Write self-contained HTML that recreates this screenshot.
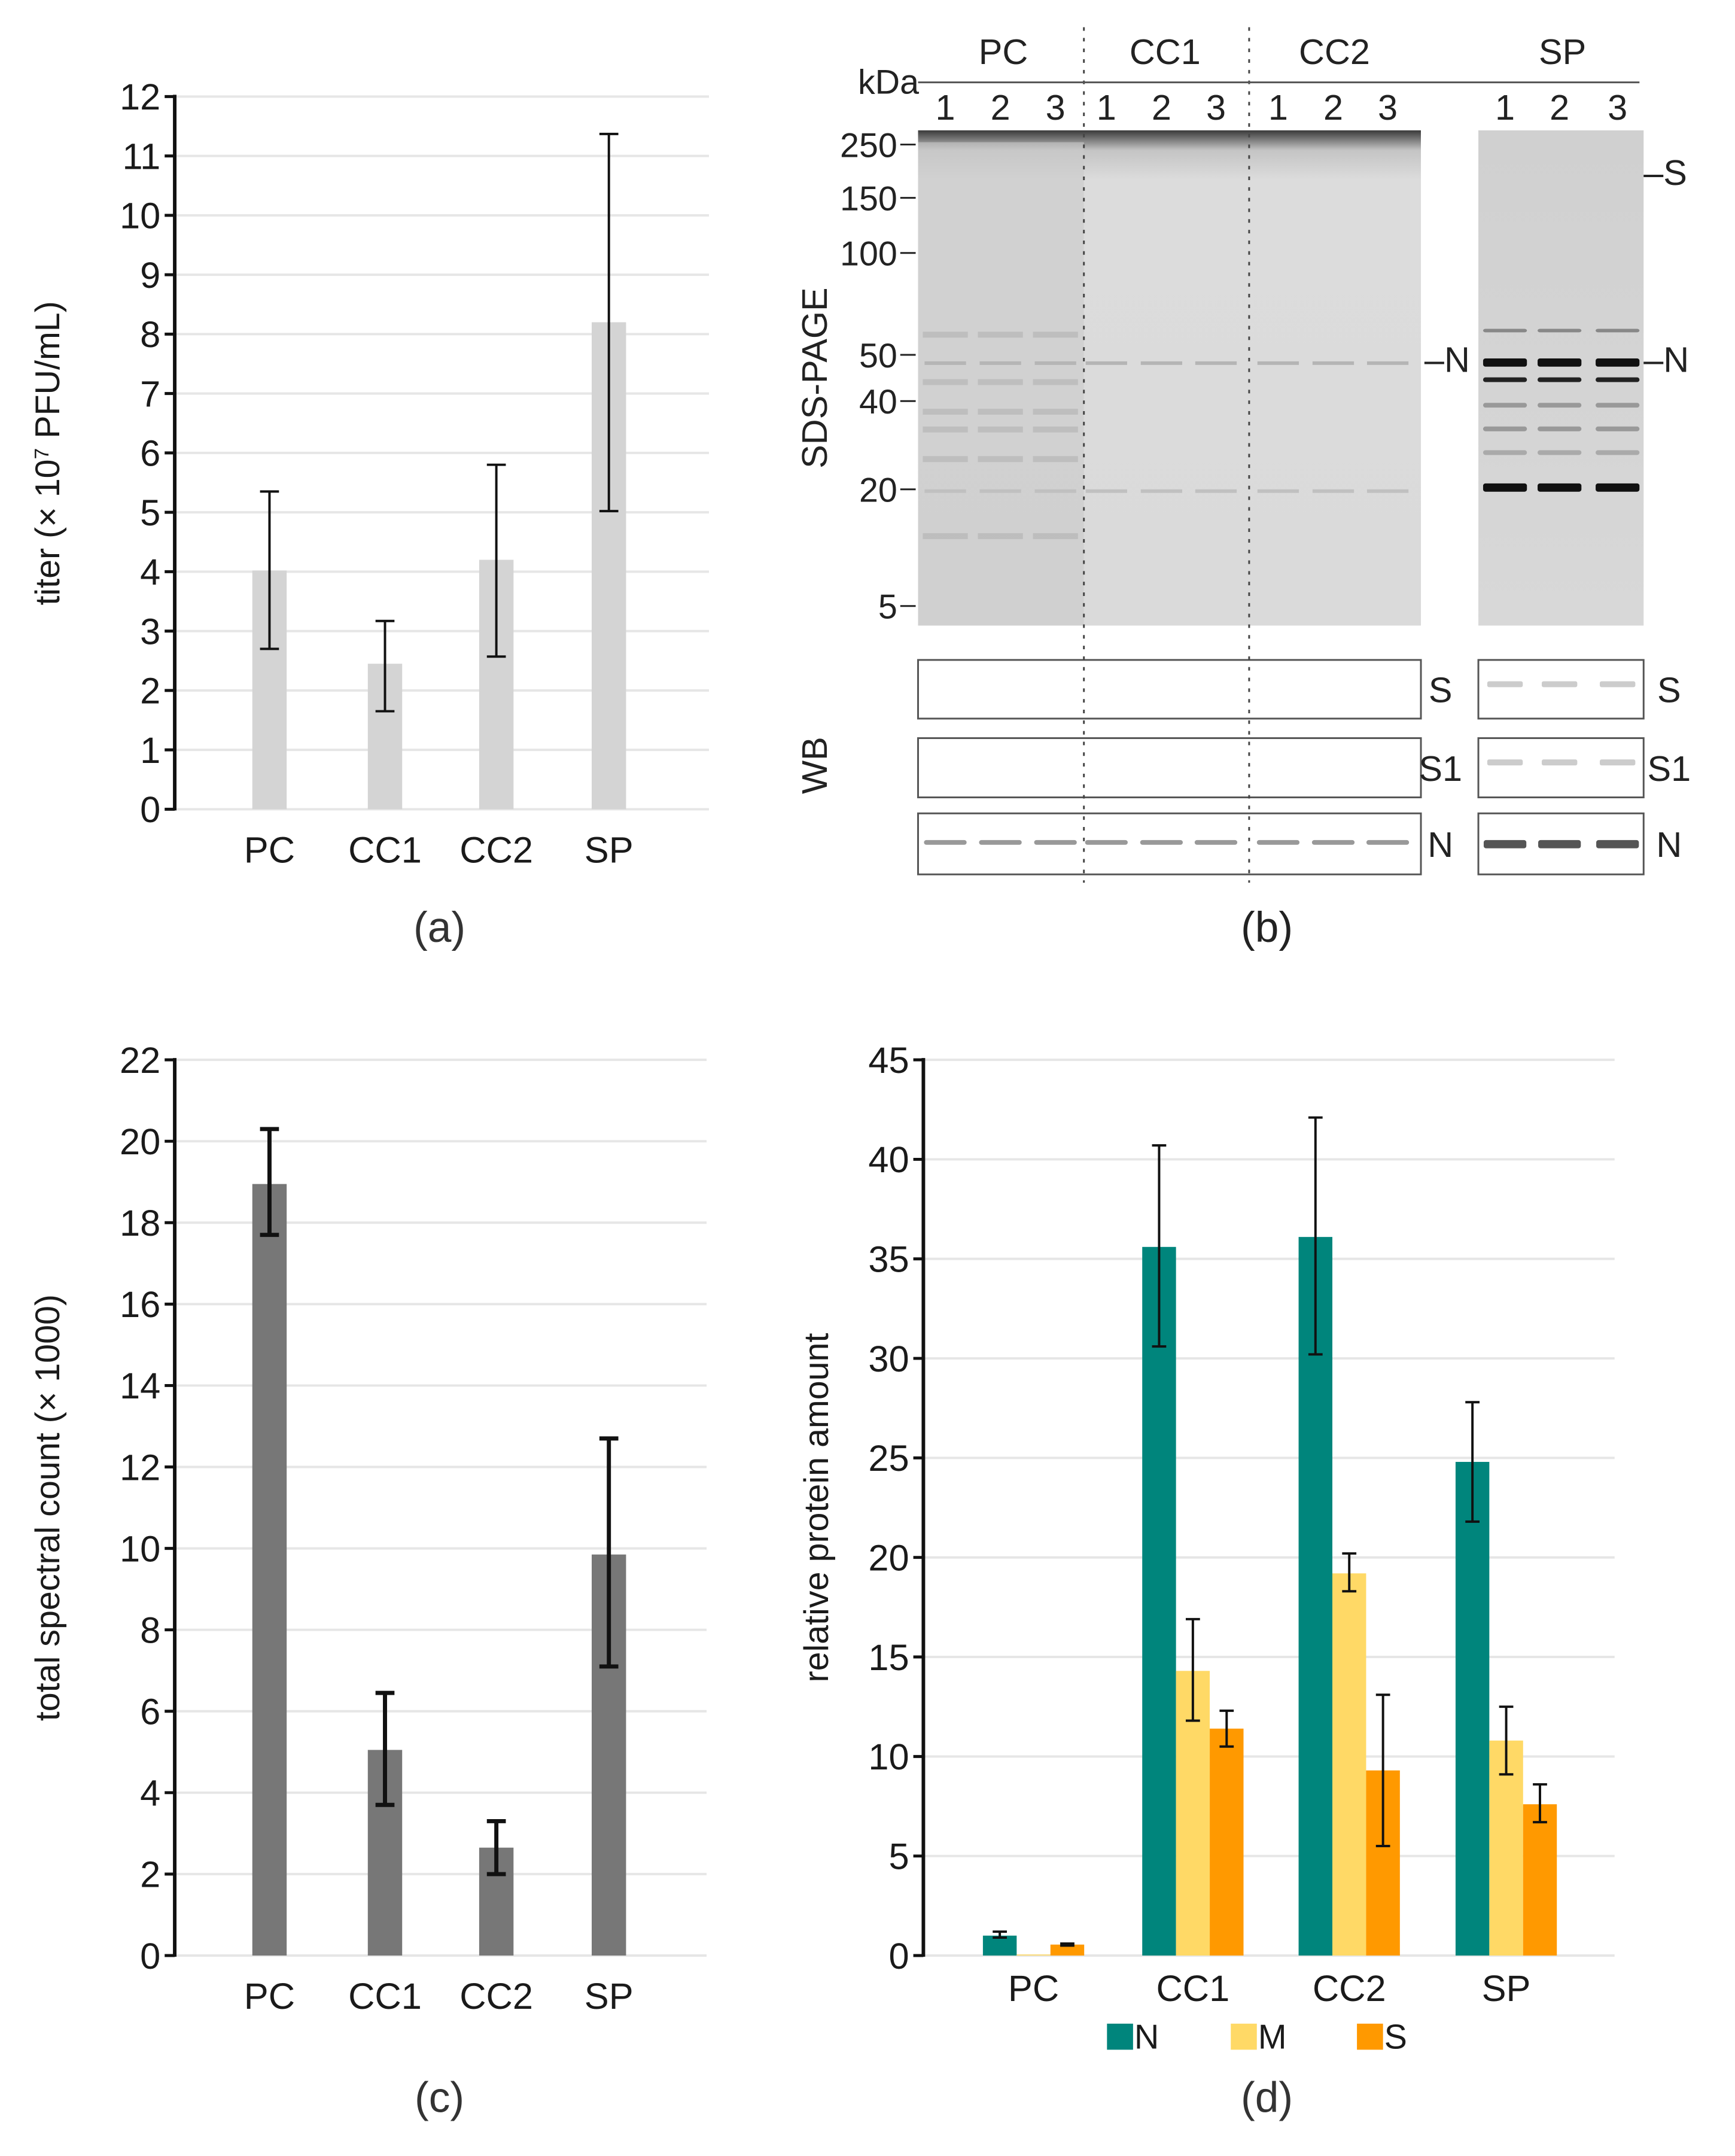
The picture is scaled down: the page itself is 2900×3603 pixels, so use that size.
<!DOCTYPE html>
<html><head><meta charset="utf-8">
<style>
html,body{margin:0;padding:0;background:#fff;}
svg{display:block;font-family:"Liberation Sans",Arial,sans-serif;}
</style></head>
<body>
<svg id="fig" width="2900" height="3603" viewBox="0 0 2900 3603" xmlns="http://www.w3.org/2000/svg">
<defs>
<linearGradient id="gelTop" x1="0" y1="0" x2="0" y2="1">
<stop offset="0" stop-color="#3a3a3a"/><stop offset="0.04" stop-color="#c4c4c4"/><stop offset="0.1" stop-color="#dcdcdc"/><stop offset="1" stop-color="#dadada"/>
</linearGradient>
<linearGradient id="gelSP" x1="0" y1="0" x2="0" y2="1">
<stop offset="0" stop-color="#d0d0d0"/><stop offset="1" stop-color="#d8d8d8"/>
</linearGradient>
</defs>
<g transform="scale(0.99)">
<g id="panelA"></g>
<g id="panelB"></g>
<g id="panelC"></g>
<g id="panelD"></g>
</g>
</svg>
<script>
// ---- Panel (a) data ----
const catsA = ["PC","CC1","CC2","SP"];
const valsA = [4.02, 2.45, 4.2, 8.2];
const lowA = [2.7, 1.65, 2.57, 5.02];
const highA = [5.35, 3.17, 5.8, 11.37];
const ticksA = [0,1,2,3,4,5,6,7,8,9,10,11,12];
// ---- Panel (c) data ----
const catsC = ["PC","CC1","CC2","SP"];
const valsC = [18.95, 5.05, 2.65, 9.85];
const lowC = [17.7, 3.7, 2.0, 7.1];
const highC = [20.3, 6.45, 3.3, 12.7];
const ticksC = [0,2,4,6,8,10,12,14,16,18,20,22];
// ---- Panel (d) data ----
const catsD = ["PC","CC1","CC2","SP"];
const seriesNames = ["N","M","S"];
const valsN = [1.0, 35.6, 36.1, 24.8];
const lowN = [0.9, 30.6, 30.2, 21.8];
const highN = [1.2, 40.7, 42.1, 27.8];
const valsM = [0.05, 14.3, 19.2, 10.8];
const lowM = [0.05, 11.8, 18.3, 9.1];
const highM = [0.05, 16.9, 20.2, 12.5];
const valsS = [0.55, 11.4, 9.3, 7.6];
const lowS = [0.5, 10.5, 5.5, 6.7];
const highS = [0.6, 12.3, 13.1, 8.6];
const ticksD = [0,5,10,15,20,25,30,35,40,45];

const NS="http://www.w3.org/2000/svg";
function mk(parent, tag, attrs, text){
  const e=document.createElementNS(NS,tag);
  for(const k in attrs) e.setAttribute(k,attrs[k]);
  if(text!==undefined) e.textContent=text;
  parent.appendChild(e); return e;
}
function axisChart(g, o){
  const y=v=>o.y0-(v-o.min)/(o.max-o.min)*(o.y0-o.yTop);
  o.ticks.forEach(t=>{
    const gl=mk(g,'line',{x1:o.x0,x2:o.xR,y1:y(t),y2:y(t),stroke:'#e6e6e6','stroke-width':4});
    
    
    const tk=mk(g,'line',{x1:o.x0-17,x2:o.x0,y1:y(t),y2:y(t),stroke:'#111','stroke-width':5});
    
    
    const tl=mk(g,'text',{x:o.x0-24,y:y(t)+22,'text-anchor':'end','font-size':62,fill:'#1a1a1a'},String(t));
    
    
  });
  const ax=mk(g,'line',{x1:o.x0,x2:o.x0,y1:o.yTop-3,y2:o.y0+2,stroke:'#111','stroke-width':6});
  
  
  const tt=mk(g,'text',{x:0,y:0,'text-anchor':'middle','font-size':58,fill:'#1a1a1a',transform:`translate(${o.titleX},${o.titleY}) rotate(-90)`});
  
  
  tt.innerHTML=o.title;
  return y;
}
function errBar(g,x,yl,yh,w,cap){
  const e=mk(g,'path',{d:`M${x},${yl}V${yh}M${x-cap},${yl}H${x+cap}M${x-cap},${yh}H${x+cap}`,stroke:'#111','stroke-width':w,fill:'none'});
  
  
}
function simpleBars(g,o,cats,vals,low,high,color,ew){
  const y=axisChart(g,o);
  cats.forEach((c,i)=>{
    const cx=o.cx[i];
    const b=mk(g,'rect',{x:cx-29,y:y(vals[i]),width:58,height:o.y0-y(vals[i]),fill:color});
    
    
    errBar(g,cx,y(low[i]),y(high[i]),ew,16);
    const l=mk(g,'text',{x:cx,y:o.y0+90,'text-anchor':'middle','font-size':62,fill:'#1a1a1a'},c);
    
    
  });
}
// Panel A
const gA=document.getElementById('panelA');
simpleBars(gA,{x0:295,xR:1197,y0:1366,yTop:163,min:0,max:12,ticks:ticksA,cx:[455,650,838,1028],
  title:'titer (× 10<tspan baseline-shift="super" font-size="34">7</tspan> PFU/mL)',titleX:100,titleY:765},
  catsA,valsA,lowA,highA,'#d4d4d4',4);
const la=mk(gA,'text',{x:742,y:1590,'text-anchor':'middle','font-size':72,fill:'#333'},'(a)');

// Panel C
const gC=document.getElementById('panelC');
simpleBars(gC,{x0:295,xR:1193,y0:3301,yTop:1789,min:0,max:22,ticks:ticksC,cx:[455,650,838,1028],
  title:'total spectral count (× 1000)',titleX:100,titleY:2545},
  catsC,valsC,lowC,highC,'#777777',7);
const lc=mk(gC,'text',{x:742,y:3565,'text-anchor':'middle','font-size':72,fill:'#333'},'(c)');

// Panel D
const gD=document.getElementById('panelD');
const oD={x0:1559,xR:2726,y0:3301,yTop:1789,min:0,max:45,ticks:ticksD,title:'relative protein amount',titleX:1398,titleY:2545};
const yD=axisChart(gD,oD);
const cxD=[1745,2014,2278,2543];
const colors=['#00857c','#ffd966','#ff9900'];
const sv=[valsN,valsM,valsS], sl=[lowN,lowM,lowS], sh=[highN,highM,highS];
catsD.forEach((c,i)=>{
  sv.forEach((vals,s)=>{
    const cx=cxD[i]+(s-1)*57;
    const b=mk(gD,'rect',{x:cx-28.5,y:yD(vals[i]),width:57,height:oD.y0-yD(vals[i]),fill:colors[s]});
    
    
    if(sh[s][i]-sl[s][i]>0.01) errBar(gD,cx,yD(sl[s][i]),yD(sh[s][i]),4,12);
  });
  const l=mk(gD,'text',{x:cxD[i],y:oD.y0+77,'text-anchor':'middle','font-size':62,fill:'#1a1a1a'},c);
  
  
});
const legX=[1891,2100,2313];
seriesNames.forEach((n,s)=>{
  const r=mk(gD,'rect',{x:legX[s]-22,y:3416,width:44,height:44,fill:colors[s]});
  
  
  const t=mk(gD,'text',{x:legX[s]+24,y:3458,'font-size':58,fill:'#1a1a1a'},n);
  
  
});
const ld=mk(gD,'text',{x:2139,y:3565,'text-anchor':'middle','font-size':72,fill:'#333'},'(d)');


// Panel B (gel images approximation)
const gB=document.getElementById('panelB');
function T(x,y,s,txt,name,anchor){const t=mk(gB,'text',{x:x,y:y,'font-size':s,fill:'#222','text-anchor':anchor||'middle'},txt);return t;}
const gel=mk(gB,'rect',{x:1550,y:220,width:849,height:836,fill:'url(#gelTop)'});

const pcShade=mk(gB,'rect',{x:1550,y:240,width:280,height:816,fill:'#c9c9c9',opacity:0.6});

const gel2=mk(gB,'rect',{x:2496,y:220,width:279,height:836,fill:'url(#gelSP)'});

const laneX=[1596,1689,1782,1868,1961,2053,2158,2251,2343,2541,2633,2731];
const mainBands=[[610,'#b5b5b5',6],[826,'#c0c0c0',6]];
laneX.slice(0,9).forEach((lx,i)=>{
  mainBands.forEach(b=>{const r=mk(gB,'rect',{x:lx-35,y:b[0],width:70,height:b[2],fill:b[1]});});
  if(i<3){[560,640,690,720,770,900].forEach(yy=>{const r=mk(gB,'rect',{x:lx-38,y:yy,width:76,height:10,fill:'#b0b0b0',opacity:0.6});});}
});
laneX.slice(9).forEach(lx=>{
  [[605,'#111',14],[637,'#222',8],[816,'#111',14],[555,'#888',6],[680,'#999',8],[720,'#999',8],[760,'#aaa',8]].forEach(b=>{const r=mk(gB,'rect',{x:lx-37,y:b[0],width:74,height:b[2],fill:b[1],rx:4});});
});
const wbY=[[1114,99],[1246,100],[1373,103]];
const wbLab=['S','S1','N'];
wbY.forEach((w,k)=>{
  const a=mk(gB,'rect',{x:1550,y:w[0],width:849,height:w[1],fill:'#fff',stroke:'#555','stroke-width':3});
  
  const b=mk(gB,'rect',{x:2496,y:w[0],width:279,height:w[1],fill:'#fff',stroke:'#555','stroke-width':3});
  
  T(2432,w[0]+w[1]/2+22,60,wbLab[k],'wb-label','middle');
  T(2818,w[0]+w[1]/2+22,60,wbLab[k],'wb-label-sp','middle');
});
laneX.forEach((lx,i)=>{
  const sp=i>=9;
  const r=mk(gB,'rect',{x:lx-36,y:1418,width:72,height:sp?14:8,fill:sp?'#555':'#999',rx:4});
  
  if(sp){[1150,1282].forEach(yy=>{const q=mk(gB,'rect',{x:lx-30,y:yy,width:60,height:10,fill:'#ccc',rx:3});});}
});
[1830,2109].forEach(x=>{const l=mk(gB,'line',{x1:x,x2:x,y1:46,y2:1490,stroke:'#444','stroke-width':3,'stroke-dasharray':'6 12'});});
const hl=mk(gB,'line',{x1:1550,x2:2768,y1:139,y2:139,stroke:'#555','stroke-width':3});

T(1694,108,60,'PC','group-label-pc');T(1967,108,60,'CC1','group-label-cc1');T(2253,108,60,'CC2','group-label-cc2');T(2638,108,60,'SP','group-label-sp');
T(1500,158,58,'kDa','kda-label');
laneX.forEach((lx,i)=>T(lx,202,60,String(i%3+1),'lane-number'));
const mw=[['250',244],['150',334],['100',427],['50',599],['40',677],['20',826],['5',1023]];
mw.forEach(m=>{T(1515,m[1]+21,58,m[0],'mw-marker-label','end');const l=mk(gB,'line',{x1:1520,x2:1546,y1:m[1],y2:m[1],stroke:'#222','stroke-width':3});});
const sds=mk(gB,'text',{x:0,y:0,'font-size':60,fill:'#222','text-anchor':'middle',transform:'translate(1396,638) rotate(-90)'},'SDS-PAGE');

const wb=mk(gB,'text',{x:0,y:0,'font-size':60,fill:'#222','text-anchor':'middle',transform:'translate(1396,1292) rotate(-90)'},'WB');

T(2405,628,60,'–N','band-label-n','start');
T(2775,628,60,'–N','band-label-n-sp','start');
T(2775,312,60,'–S','band-label-s-sp','start');
T(2139,1590,72,'(b)','panel-label-b');
</script>
</body></html>
